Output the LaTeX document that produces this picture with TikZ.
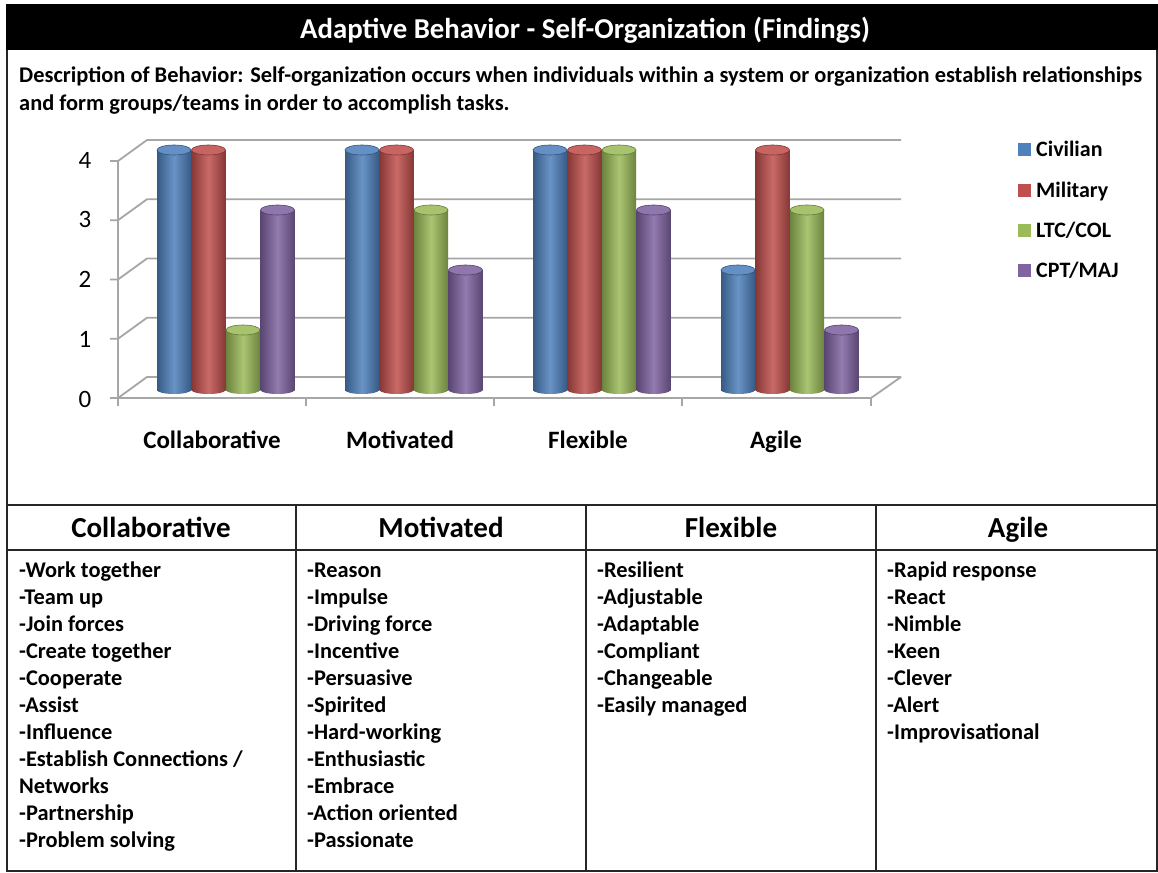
\documentclass[tikz,border=0pt]{standalone}
\usepackage{fontspec}
\setmainfont{Carlito}
\definecolor{cblue}{HTML}{4F81BD}
\definecolor{cred}{HTML}{C0504D}
\definecolor{cgreen}{HTML}{9BBB59}
\definecolor{cpurple}{HTML}{8064A2}
\definecolor{gridgray}{HTML}{A6A6A6}
\newcommand{\barcyl}[3]{%
  \pgfmathsetmacro\bxl{#1}%
  \pgfmathsetmacro\bxr{#1+34}%
  \pgfmathsetmacro\bxc{#1+17}%
  \pgfmathsetmacro\byt{390-60*#2}%
  \shade[left color=#3!70!black, right color=#3!70!black, middle color=#3!85!white] (\bxc,390) ellipse[x radius=17, y radius=4];
  \shade[left color=#3!70!black, right color=#3!70!black, middle color=#3!85!white] (\bxl,\byt) rectangle (\bxr,390);
  \fill[#3!88!white, draw=#3!65!black, line width=0.6] (\bxc,\byt) ellipse[x radius=17, y radius=5];
}
\tikzset{
  gridline/.style={draw=gridgray, line width=1.8},
  tbl/.style={draw=black!85, line width=1.5},
  ttl/.style={text=white, font=\bfseries\fontsize{28.8}{32}\selectfont, inner sep=0, text height=0.7em, text depth=0.2em, yshift=-7pt},
  desc/.style={anchor=west, font=\bfseries\fontsize{22.4}{26}\selectfont, inner sep=0, text height=0.7em, text depth=0.2em, yshift=-5pt},
  ylab/.style={font=\fontsize{25}{28}\selectfont, inner sep=0},
  cat/.style={font=\bfseries\fontsize{25}{28}\selectfont, inner sep=0, text height=0.7em, text depth=0.2em, yshift=-6pt},
  leg/.style={anchor=west, font=\bfseries\fontsize{22}{26}\selectfont, inner sep=0, text height=0.7em, text depth=0.2em, yshift=-5pt},
  hdr/.style={font=\bfseries\fontsize{29}{33}\selectfont, inner sep=0, text height=0.7em, text depth=0.2em, yshift=-7pt},
  item/.style={anchor=west, font=\bfseries\fontsize{22.4}{26}\selectfont, inner sep=0, text height=0.7em, text depth=0.2em, yshift=-5pt},
}
\begin{document}
\begin{tikzpicture}[x=1pt,y=-1pt]
\useasboundingbox (0,0) rectangle (1158,872);
\fill[white] (0,0) rectangle (1158,872);
% title bar
\fill[black] (6,4) rectangle (1158,50);
\node[ttl] (title) at (585,29) {Adaptive Behavior - Self-Organization (Findings)};
\node[desc] (desc1) at (19,75) {Description of Behavior: Self-organization occurs when individuals within a system or organization establish relationships};
\node[desc] (desc2) at (19,103) {and form groups/teams in order to accomplish tasks.};
% chart grid
\foreach \i in {0,...,4} {
  \pgfmathsetmacro\fy{398-59.25*\i}
  \draw[gridline] (110,\fy) -- (118,\fy) -- (147,{\fy-21}) -- (901,{\fy-21});
}
\draw[gridline] (118,161) -- (118,398) -- (871,398) -- (901,377);
\foreach \x in {118,306,494,682,871} { \draw[gridline] (\x,398) -- (\x,406); }
% y labels
\foreach \v/\y in {4/160,3/219,2/279,1/339,0/399} {
  \node[ylab] (y\v) at (85,\y) {\v};
}
% bars
\foreach \g/\k/\v/\c in {0/0/4/cblue,0/1/4/cred,0/2/1/cgreen,0/3/3/cpurple,
                          1/0/4/cblue,1/1/4/cred,1/2/3/cgreen,1/3/2/cpurple,
                          2/0/4/cblue,2/1/4/cred,2/2/4/cgreen,2/3/3/cpurple,
                          3/0/2/cblue,3/1/4/cred,3/2/3/cgreen,3/3/1/cpurple} {
  \pgfmathsetmacro\xl{118+188*\g+39+34.5*\k}
  \barcyl{\xl}{\v}{\c}
}
% category labels
\node[cat] (catA) at (212,440) {Collaborative};
\node[cat] (catB) at (400,440) {Motivated};
\node[cat] (catC) at (588,440) {Flexible};
\node[cat] (catD) at (776,440) {Agile};
% legend
\foreach \c/\t/\y [count=\i] in {cblue/Civilian/149,cred/Military/190,cgreen/LTC\slash COL/230,cpurple/CPT\slash MAJ/270} {
  \fill[\c] (1018,{\y-6.5}) rectangle (1031,{\y+6.5});
  \node[leg] (leg\i) at (1036,\y) {\t};
}
% frame and table
\draw[tbl] (7,50) -- (7,871) -- (1157,871) -- (1157,50);
\draw[tbl] (7,505) -- (1157,505);
\draw[tbl] (7,550) -- (1157,550);
\draw[tbl] (296,505) -- (296,871);
\draw[tbl] (586,505) -- (586,871);
\draw[tbl] (876,505) -- (876,871);
\node[hdr] (hA) at (151,528) {Collaborative};
\node[hdr] (hB) at (441,528) {Motivated};
\node[hdr] (hC) at (731,528) {Flexible};
\node[hdr] (hD) at (1018,528) {Agile};
\foreach \t [count=\i from 0] in {-Work together,-Team up,-Join forces,-Create together,-Cooperate,-Assist,-Influence,-Establish Connections /,Networks,-Partnership,-Problem solving} {
  \node[item] (ia\i) at (19,{570+27*\i}) {\t};
}
\foreach \t [count=\i from 0] in {-Reason,-Impulse,-Driving force,-Incentive,-Persuasive,-Spirited,-Hard-working,-Enthusiastic,-Embrace,-Action oriented,-Passionate} {
  \node[item] (ib\i) at (307,{570+27*\i}) {\t};
}
\foreach \t [count=\i from 0] in {-Resilient,-Adjustable,-Adaptable,-Compliant,-Changeable,-Easily managed} {
  \node[item] (ic\i) at (597,{570+27*\i}) {\t};
}
\foreach \t [count=\i from 0] in {-Rapid response,-React,-Nimble,-Keen,-Clever,-Alert,-Improvisational} {
  \node[item] (id\i) at (887,{570+27*\i}) {\t};
}
\end{tikzpicture}
\end{document}
